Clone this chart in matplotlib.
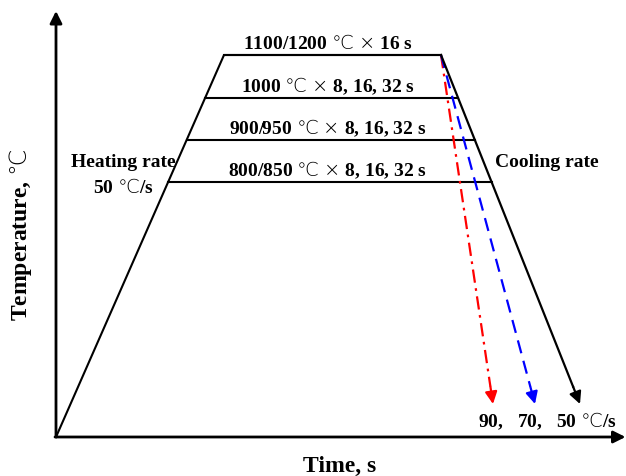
import numpy as np
import matplotlib.pyplot as plt

plt.rcParams['font.family'] = ['Liberation Serif', 'DejaVu Serif']
plt.rcParams['font.weight'] = 'bold'
# degree-Celsius and times signs set in a light face via mathtext
plt.rcParams['mathtext.fontset'] = 'custom'
plt.rcParams['mathtext.rm'] = 'DejaVu Sans:weight=light'
DEG = r'$\mathrm{℃}$'
X = r'$\mathrm{×}$'

# schematic heat-treatment cycle (arbitrary time / temperature units)
t_top = 16.8          # end of heating ramp
t_hold = 38.5         # end of soaking
T_top = 38.2
T_levels = [38.2, 33.9, 29.7, 25.5]
level_labels = [f'1100/1200 {DEG} {X} 16 s',
                f'1000 {DEG} {X} 8, 16, 32 s',
                f'900/950 {DEG} {X} 8, 16, 32 s',
                f'800/850 {DEG} {X} 8, 16, 32 s']
cool_rates = [90, 70, 50]
cool_end_t = [43.7, 47.9, 52.4]
cool_end_T = 3.3
cool_colors = ['red', 'blue', 'black']
cool_styles = [(0, (6, 2.5, 1.2, 2.5)), (0, (6, 3.5)), '-']

f, ax = plt.subplots(figsize=(6.26, 4.77), dpi=100)
ax.set_position([0, 0, 1, 1])
ax.set_xlim(-5.6, 57.0)
ax.set_ylim(-3.9, 43.8)
ax.axis('off')

# axes with arrow heads
ax.annotate('', xy=(0, 42.6), xytext=(0, 0),
            arrowprops=dict(arrowstyle='-|>', color='k', lw=2,
                            mutation_scale=18, shrinkA=0, shrinkB=0))
ax.annotate('', xy=(56.95, 0), xytext=(-0.1, 0),
            arrowprops=dict(arrowstyle='-|>', color='k', lw=2,
                            mutation_scale=18, shrinkA=0, shrinkB=0))

# heating ramp and plateau
ax.plot([0, t_top, t_hold], [0, T_top, T_top], color='k', lw=1.5)

# lower holding temperatures, bounded by heating and slowest cooling line
t_last = cool_end_t[-1]
for T, lab in zip(T_levels, level_labels):
    x0 = t_top * T / T_top
    x1 = t_hold + (t_last - t_hold) * (T_top - T) / (T_top - cool_end_T)
    ax.plot([x0, x1], [T, T], color='k', lw=1.5)
    ax.text(27.2, T + 0.7, lab, ha='center', va='baseline', fontsize=14)

# cooling paths
for te, c, ls in zip(cool_end_t, cool_colors, cool_styles):
    frac = 0.95
    xa = t_hold + (te - t_hold) * frac
    ya = T_top + (cool_end_T - T_top) * frac
    ax.plot([t_hold, xa], [T_top, ya], color=c, lw=1.6, linestyle=ls)
    ax.annotate('', xy=(te, cool_end_T), xytext=(xa, ya),
                arrowprops=dict(arrowstyle='-|>', color=c, lw=1.6,
                                mutation_scale=18, shrinkA=0, shrinkB=0))

ax.text(6.7, 27.1, 'Heating rate', ha='center', va='baseline', fontsize=14)
ax.text(6.7, 24.5, f'50 {DEG}/s', ha='center', va='baseline', fontsize=14)
ax.text(49.1, 27.1, 'Cooling rate', ha='center', va='baseline', fontsize=14)
ax.text(49.1, 1.1, f'90,   70,   50 {DEG}/s', ha='center', va='baseline',
        fontsize=14)

ax.text(28.4, -3.4, 'Time, s', ha='center', va='baseline', fontsize=17)
ax.text(-3.5, 20.3, f'Temperature, {DEG}', ha='center', va='center',
        rotation=90, fontsize=17)

f.savefig('out.png', dpi=100)
plt.close(f)
